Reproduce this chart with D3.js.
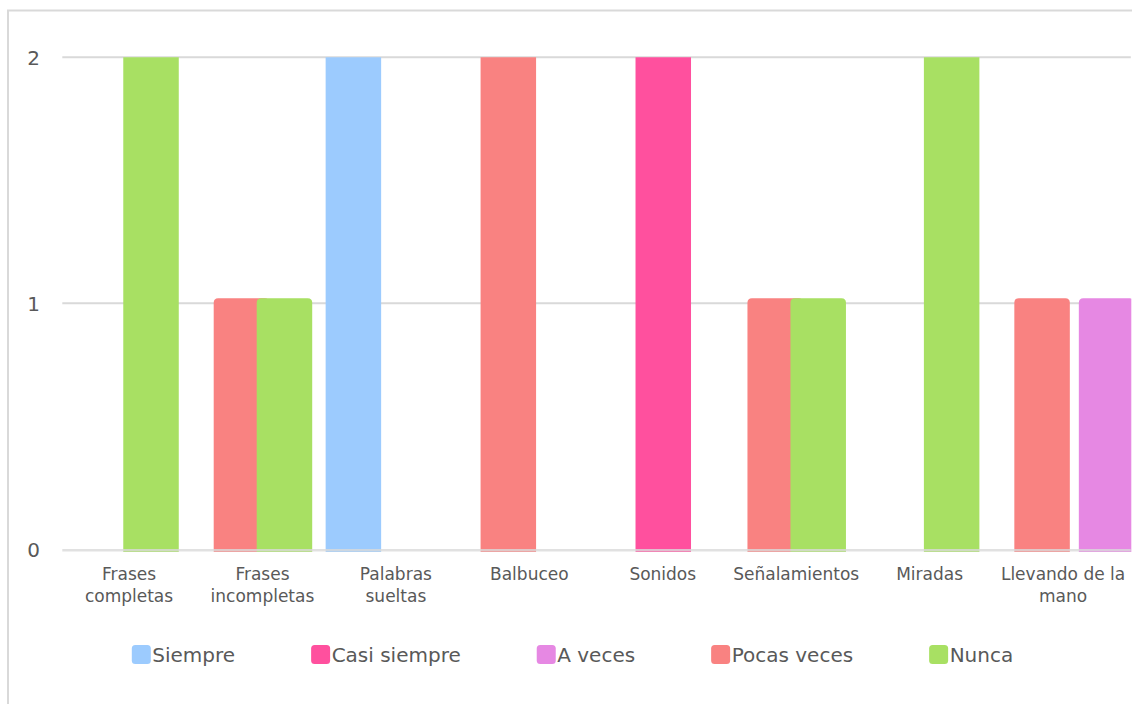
<!DOCTYPE html>
<html>
<head>
<meta charset="utf-8">
<script src="https://cdn.jsdelivr.net/npm/d3@7/dist/d3.min.js"></script>
<style>
  html, body { margin: 0; padding: 0; background: #ffffff; }
  svg { display: block; }
</style>
</head>
<body>
<svg id="chart" width="1132" height="704"></svg>
<script>
// Categories (each label split into its display lines)
const categories = ["Frases completas", "Frases incompletas", "Palabras sueltas", "Balbuceo",
                    "Sonidos", "Señalamientos", "Miradas", "Llevando de la mano"];
const categoryLines = [["Frases", "completas"], ["Frases", "incompletas"], ["Palabras", "sueltas"],
                       ["Balbuceo"], ["Sonidos"], ["Señalamientos"], ["Miradas"], ["Llevando de la", "mano"]];

// Series, in legend order
const seriesNames = ["Siempre", "Casi siempre", "A veces", "Pocas veces", "Nunca"];
const siempre     = [0, 0, 2, 0, 0, 0, 0, 0];
const casiSiempre = [0, 0, 0, 0, 2, 0, 0, 0];
const aVeces      = [0, 0, 0, 0, 0, 0, 0, 1];
const pocasVeces  = [0, 1, 0, 2, 0, 1, 0, 1];
const nunca       = [2, 1, 0, 0, 0, 1, 2, 0];
const seriesValues = [siempre, casiSiempre, aVeces, pocasVeces, nunca];
const seriesColors = ["#9CCBFE", "#FF509E", "#E688E3", "#F98281", "#A8E063"];

// Slot order of the series inside a category group
const slotOrder = ["Siempre", "Pocas veces", "Casi siempre", "Nunca", "A veces"];

const yTicks = [0, 1, 2];

const svg = d3.select("#chart");
const W = 1132, H = 704;
const plot = { left: 62.3, right: 1129.8, top: 57.2, bottom: 549.4 };
const barW = 55.5;

// Chart frame
svg.append("rect")
  .attr("x", 8).attr("y", 10.5)
  .attr("width", W + 20).attr("height", H + 20)
  .attr("fill", "none").attr("stroke", "#d9d9d9").attr("stroke-width", 2);

const x0 = d3.scaleBand().domain(categories).range([plot.left, plot.right]).padding(0);
const xs = d3.scalePoint().domain(slotOrder)
  .range([x0.bandwidth() / 2 - 42.5, x0.bandwidth() / 2 + 43.5]);
const y = d3.scaleLinear().domain([0, 2]).range([plot.bottom, plot.top]);

// Gridlines
svg.append("g").selectAll("line").data(yTicks.filter(d => d > 0)).join("line")
  .attr("x1", plot.left).attr("x2", plot.right + 1)
  .attr("y1", d => y(d)).attr("y2", d => y(d))
  .attr("stroke", "#d9d9d9").attr("stroke-width", 2);

// Y tick labels
svg.append("g").selectAll("text").data(yTicks).join("text")
  .attr("x", 40).attr("y", d => y(d) + 7.5)
  .attr("text-anchor", "end")
  .attr("font-family", "DejaVu Sans, sans-serif")
  .attr("font-size", 20)
  .attr("fill", "#595959")
  .text(d => d);

// Clip bars to the plotting area
svg.append("defs").append("clipPath").attr("id", "plotClip")
  .append("rect")
  .attr("x", plot.left).attr("y", plot.top)
  .attr("width", plot.right - plot.left + 1.5).attr("height", H - plot.top);

function roundedTopBar(x, yTop, w, yBottom, r) {
  return `M${x},${yBottom} L${x},${yTop + r} Q${x},${yTop} ${x + r},${yTop} ` +
         `L${x + w - r},${yTop} Q${x + w},${yTop} ${x + w},${yTop + r} L${x + w},${yBottom} Z`;
}

const bars = [];
seriesNames.forEach((name, si) => {
  seriesValues[si].forEach((v, ci) => {
    if (v > 0) bars.push({ series: name, color: seriesColors[si], cat: categories[ci], value: v });
  });
});

svg.append("g").attr("clip-path", "url(#plotClip)")
  .selectAll("path").data(bars).join("path")
  .attr("d", d => {
    const cx = x0(d.cat) + xs(d.series);
    return roundedTopBar(cx - barW / 2, y(d.value) - 5, barW, y(0) + 2.5, 4.5);
  })
  .attr("fill", d => d.color);

// Category axis line
svg.append("line")
  .attr("x1", plot.left).attr("x2", plot.right + 1)
  .attr("y1", y(0) + 0.8).attr("y2", y(0) + 0.8)
  .attr("stroke", "#d9d9d9").attr("stroke-opacity", 0.8).attr("stroke-width", 2.5);

// Category labels
const catG = svg.append("g")
  .attr("font-family", "DejaVu Sans, sans-serif")
  .attr("font-size", 17)
  .attr("fill", "#595959")
  .attr("text-anchor", "middle");
categories.forEach((c, i) => {
  const t = catG.append("text")
    .attr("x", x0(c) + x0.bandwidth() / 2)
    .attr("y", 579.5);
  categoryLines[i].forEach((line, li) => {
    t.append("tspan")
      .attr("x", x0(c) + x0.bandwidth() / 2)
      .attr("dy", li === 0 ? 0 : 22)
      .text(line);
  });
});

// Legend
const legend = svg.append("g")
  .attr("font-family", "DejaVu Sans, sans-serif")
  .attr("font-size", 20)
  .attr("fill", "#595959");
const items = seriesNames.map((name, i) => {
  const g = legend.append("g");
  g.append("rect").attr("width", 19).attr("height", 19).attr("rx", 3.5)
    .attr("y", 645).attr("fill", seriesColors[i]);
  const t = g.append("text").attr("x", 20.5).attr("y", 662).text(name);
  return { g, w: 20.5 + t.node().getComputedTextLength() };
});
const gap = 76;
const total = d3.sum(items, d => d.w) + gap * (items.length - 1);
let cursor = 572.5 - total / 2;
items.forEach(it => {
  it.g.attr("transform", `translate(${cursor},0)`);
  cursor += it.w + gap;
});
</script>
</body>
</html>
